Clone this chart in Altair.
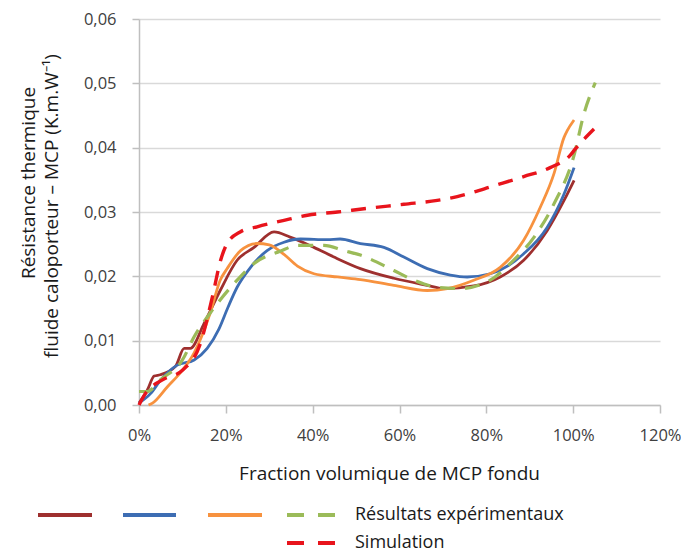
import altair as alt
import pandas as pd

# ---- data ----
brown_x = [0.000, 0.019, 0.035, 0.049, 0.084, 0.104, 0.118, 0.150, 0.187, 0.226, 0.265, 0.311, 0.348,
           0.403, 0.449, 0.510, 0.587, 0.664, 0.702, 0.771, 0.832, 0.886, 0.940, 0.979, 1.002]
brown_y = [0.0003, 0.0023, 0.0045, 0.0047, 0.0060, 0.0088, 0.0088, 0.0127, 0.0178, 0.0225, 0.0245, 0.0269, 0.0261,
           0.0245, 0.0230, 0.0212, 0.0197, 0.0186, 0.0181, 0.0185, 0.0199, 0.0225, 0.0271, 0.0318, 0.0349]

blue_x = [0.000, 0.027, 0.050, 0.088, 0.127, 0.157, 0.184, 0.205, 0.226, 0.257, 0.295, 0.334, 0.372, 0.434,
          0.463, 0.510, 0.564, 0.610, 0.664, 0.717, 0.756, 0.809, 0.886, 0.940, 0.979, 1.002]
blue_y = [0.0003, 0.0018, 0.0039, 0.0062, 0.0070, 0.0088, 0.0118, 0.0152, 0.0183, 0.0214, 0.0240, 0.0253, 0.0258, 0.0257,
          0.0258, 0.0251, 0.0245, 0.0230, 0.0212, 0.0202, 0.0199, 0.0204, 0.0235, 0.0276, 0.0328, 0.0369]

orange_x = [0.022, 0.031, 0.065, 0.100, 0.127, 0.164, 0.187, 0.203, 0.234, 0.272, 0.300, 0.334, 0.365, 0.403,
            0.457, 0.510, 0.587, 0.664, 0.710, 0.771, 0.832, 0.886, 0.924, 0.956, 0.979, 0.986, 1.002]
orange_y = [0.0000, 0.0003, 0.0028, 0.0054, 0.0081, 0.0143, 0.0194, 0.0212, 0.0240, 0.0251, 0.0249, 0.0234, 0.0216, 0.0204,
            0.0199, 0.0195, 0.0186, 0.0178, 0.0181, 0.0194, 0.0214, 0.0256, 0.0307, 0.0360, 0.0416, 0.0426, 0.0443]

green_x = [0.000, 0.019, 0.049, 0.100, 0.127, 0.164, 0.226, 0.265, 0.325, 0.365, 0.426, 0.472, 0.510, 0.587,
           0.633, 0.687, 0.740, 0.809, 0.855, 0.910, 0.956, 1.002, 1.025, 1.051]
green_y = [0.0021, 0.0021, 0.0039, 0.0070, 0.0106, 0.0143, 0.0194, 0.0220, 0.0239, 0.0248, 0.0248, 0.0240, 0.0233, 0.0209,
           0.0194, 0.0183, 0.0181, 0.0194, 0.0220, 0.0261, 0.0313, 0.0388, 0.0453, 0.0501]

sim_x = [0.000, 0.015, 0.054, 0.100, 0.140, 0.169, 0.188, 0.203, 0.233, 0.272, 0.334, 0.388, 0.457, 0.518,
         0.610, 0.687, 0.733, 0.771, 0.809, 0.886, 0.947, 0.993, 1.005, 1.048]
sim_y = [0.0000, 0.0018, 0.0039, 0.0054, 0.0093, 0.0168, 0.0225, 0.0251, 0.0269, 0.0277, 0.0287, 0.0295, 0.0300, 0.0305,
         0.0312, 0.0318, 0.0324, 0.0331, 0.0339, 0.0355, 0.0369, 0.0388, 0.0398, 0.0429]

x_ticks = [0, 0.2, 0.4, 0.6, 0.8, 1.0, 1.2]
y_ticks = [0, 0.01, 0.02, 0.03, 0.04, 0.05, 0.06]

x_title = "Fraction volumique de MCP fondu"
y_title_1 = "Résistance thermique"
y_title_2 = "fluide caloporteur – MCP (K.m.W⁻¹)"
legend_exp = "Résultats expérimentaux"
legend_sim = "Simulation"

C_BROWN = "#9E2F2E"
C_BLUE = "#3D6DB3"
C_ORANGE = "#F7923F"
C_GREEN = "#9BBB59"
C_RED = "#E8141C"

FONT = "Open Sans"

x_axis = alt.Axis(values=x_ticks, labelExpr="format(datum.value, '.0%')", grid=False,
                  domainColor="#BFBFBF", domainWidth=1.5, tickColor="#BFBFBF", tickWidth=1.5,
                  tickSize=8, labelPadding=14, labelFontSize=16.5, labelFont=FONT, labelColor="#404040",
                  labelFlush=False, labelOverlap=False,
                  title=x_title, titleFont=FONT, titleFontSize=19, titleFontWeight="normal",
                  titleColor="#1A1A1A", titleX=250, titleY=74, titleBaseline="alphabetic",
                  titleAlign="center")
y_axis = alt.Axis(values=y_ticks, labelExpr="replace(format(datum.value, '.2f'), '.', ',')",
                  grid=True, gridColor="#D9D9D9", gridWidth=1.5,
                  domainColor="#BFBFBF", domainWidth=1.5, tickColor="#BFBFBF", tickWidth=1.5,
                  tickSize=7, labelPadding=16, labelFontSize=16.5, labelFont=FONT, labelColor="#404040",
                  labelOverlap=False, title=None)

xs = alt.Scale(domain=[0, 1.2], nice=False)
ys = alt.Scale(domain=[0, 0.06], nice=False)


def series(xv, yv, color, dash=None, interp="monotone", width=2.8):
    df = pd.DataFrame({"x": xv, "y": yv})
    kw = dict(color=color, strokeWidth=width, interpolate=interp)
    if dash:
        kw["strokeDash"] = dash
    return alt.Chart(df).mark_line(**kw).encode(
        x=alt.X("x:Q", scale=xs, axis=x_axis),
        y=alt.Y("y:Q", scale=ys, axis=y_axis),
    )


def text_mark(txt, x, y, size, angle=None, align="left"):
    kw = dict(font=FONT, fontSize=size, color="#1A1A1A", align=align, baseline="middle")
    if angle is not None:
        kw["angle"] = angle
    return alt.Chart(pd.DataFrame({"t": [txt]})).mark_text(**kw).encode(
        text="t:N", x=alt.value(x), y=alt.value(y))


def legend_line(x1, x2, y, color, dash=None):
    kw = dict(color=color, strokeWidth=4)
    if dash:
        kw["strokeDash"] = dash
    return alt.Chart(pd.DataFrame({"d": [0]})).mark_rule(**kw).encode(
        x=alt.value(x1), x2=alt.value(x2), y=alt.value(y))


ROW1 = 496
ROW2 = 524

layers = [
    series(brown_x, brown_y, C_BROWN),
    series(blue_x, blue_y, C_BLUE),
    series(orange_x, orange_y, C_ORANGE),
    series(green_x, green_y, C_GREEN, dash=[15, 10], width=3.2),
    series(sim_x, sim_y, C_RED, dash=[15, 10], width=3.4),
    text_mark(y_title_1, -110, 164, 19, angle=270, align="center"),
    text_mark(y_title_2, -87, 187, 19, angle=270, align="center"),
    legend_line(-101, -47, ROW1, C_BROWN),
    legend_line(-16, 37, ROW1, C_BLUE),
    legend_line(69, 123, ROW1, C_ORANGE),
    legend_line(148, 197, ROW1, C_GREEN, dash=[17, 14]),
    legend_line(148, 197, ROW2, C_RED, dash=[17, 14]),
    text_mark(legend_exp, 216, ROW1, 18),
    text_mark(legend_sim, 216, ROW2, 18),
]

chart = alt.layer(*layers).properties(
    width=521, height=386,
    autosize=alt.AutoSizeParams(type="none"),
    padding={"left": 131, "top": 11, "right": 21, "bottom": 147},
    background="white",
).configure_view(stroke=None)

chart.save("out.html", embed_options={"renderer": "svg", "actions": False})
